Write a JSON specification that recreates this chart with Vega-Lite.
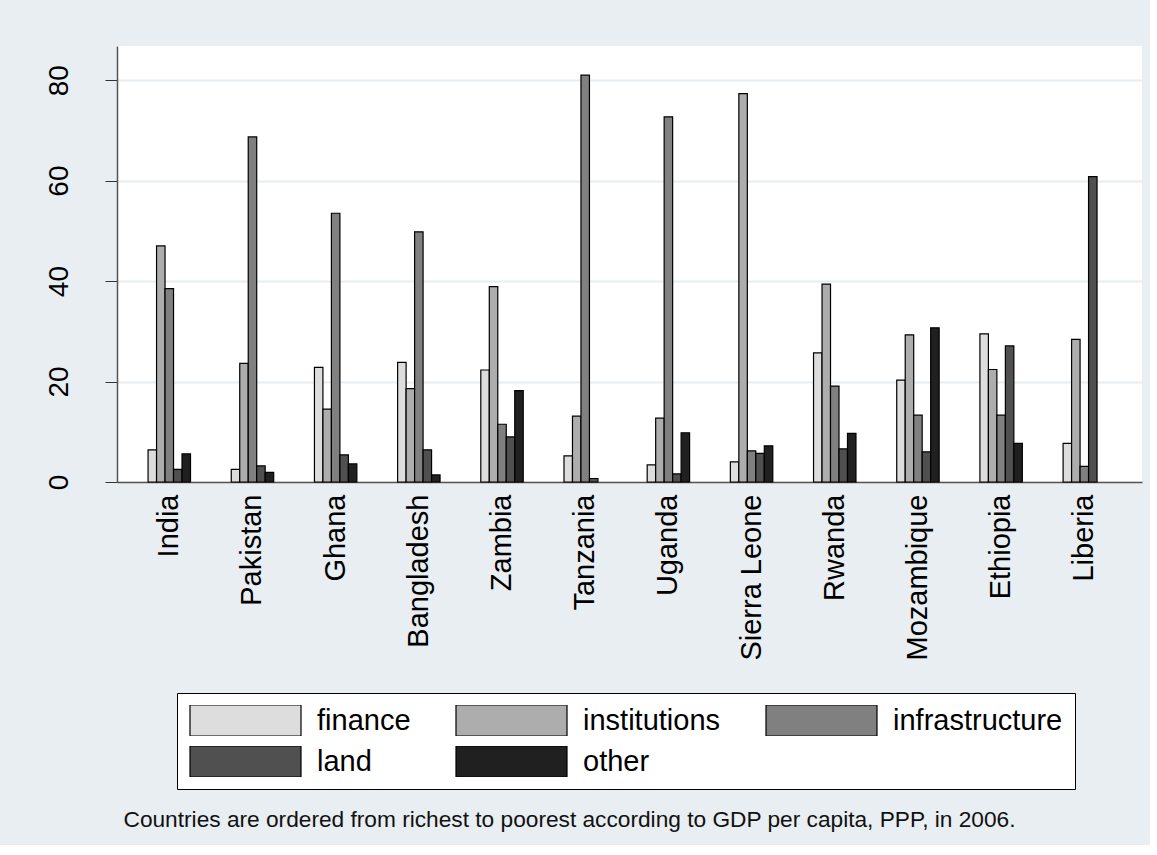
{
  "$schema": "https://vega.github.io/schema/vega-lite/v6.json",
  "width": 1025,
  "height": 436,
  "autosize": {"type": "none"},
  "padding": {"left": 117, "top": 46, "right": 8, "bottom": 363},
  "background": "#e8eef1",
  "config": {"view": {"fill": "white", "stroke": null}, "font": "Liberation Sans"},
  "data": {"values": [
    {"country": "India", "category": "finance", "value": 6.4},
    {"country": "India", "category": "institutions", "value": 47.0},
    {"country": "India", "category": "infrastructure", "value": 38.5},
    {"country": "India", "category": "land", "value": 2.5},
    {"country": "India", "category": "other", "value": 5.6},
    {"country": "Pakistan", "category": "finance", "value": 2.5},
    {"country": "Pakistan", "category": "institutions", "value": 23.6},
    {"country": "Pakistan", "category": "infrastructure", "value": 68.7},
    {"country": "Pakistan", "category": "land", "value": 3.2},
    {"country": "Pakistan", "category": "other", "value": 1.9},
    {"country": "Ghana", "category": "finance", "value": 22.8},
    {"country": "Ghana", "category": "institutions", "value": 14.5},
    {"country": "Ghana", "category": "infrastructure", "value": 53.5},
    {"country": "Ghana", "category": "land", "value": 5.4},
    {"country": "Ghana", "category": "other", "value": 3.6},
    {"country": "Bangladesh", "category": "finance", "value": 23.8},
    {"country": "Bangladesh", "category": "institutions", "value": 18.6},
    {"country": "Bangladesh", "category": "infrastructure", "value": 49.8},
    {"country": "Bangladesh", "category": "land", "value": 6.4},
    {"country": "Bangladesh", "category": "other", "value": 1.4},
    {"country": "Zambia", "category": "finance", "value": 22.3},
    {"country": "Zambia", "category": "institutions", "value": 38.9},
    {"country": "Zambia", "category": "infrastructure", "value": 11.5},
    {"country": "Zambia", "category": "land", "value": 9.0},
    {"country": "Zambia", "category": "other", "value": 18.2},
    {"country": "Tanzania", "category": "finance", "value": 5.2},
    {"country": "Tanzania", "category": "institutions", "value": 13.1},
    {"country": "Tanzania", "category": "infrastructure", "value": 81.0},
    {"country": "Tanzania", "category": "land", "value": 0.7},
    {"country": "Uganda", "category": "finance", "value": 3.4},
    {"country": "Uganda", "category": "institutions", "value": 12.7},
    {"country": "Uganda", "category": "infrastructure", "value": 72.7},
    {"country": "Uganda", "category": "land", "value": 1.6},
    {"country": "Uganda", "category": "other", "value": 9.8},
    {"country": "Sierra Leone", "category": "finance", "value": 4.0},
    {"country": "Sierra Leone", "category": "institutions", "value": 77.3},
    {"country": "Sierra Leone", "category": "infrastructure", "value": 6.2},
    {"country": "Sierra Leone", "category": "land", "value": 5.7},
    {"country": "Sierra Leone", "category": "other", "value": 7.2},
    {"country": "Rwanda", "category": "finance", "value": 25.7},
    {"country": "Rwanda", "category": "institutions", "value": 39.4},
    {"country": "Rwanda", "category": "infrastructure", "value": 19.1},
    {"country": "Rwanda", "category": "land", "value": 6.6},
    {"country": "Rwanda", "category": "other", "value": 9.7},
    {"country": "Mozambique", "category": "finance", "value": 20.3},
    {"country": "Mozambique", "category": "institutions", "value": 29.3},
    {"country": "Mozambique", "category": "infrastructure", "value": 13.3},
    {"country": "Mozambique", "category": "land", "value": 6.0},
    {"country": "Mozambique", "category": "other", "value": 30.7},
    {"country": "Ethiopia", "category": "finance", "value": 29.5},
    {"country": "Ethiopia", "category": "institutions", "value": 22.4},
    {"country": "Ethiopia", "category": "infrastructure", "value": 13.3},
    {"country": "Ethiopia", "category": "land", "value": 27.1},
    {"country": "Ethiopia", "category": "other", "value": 7.7},
    {"country": "Liberia", "category": "finance", "value": 7.7},
    {"country": "Liberia", "category": "institutions", "value": 28.4},
    {"country": "Liberia", "category": "infrastructure", "value": 3.1},
    {"country": "Liberia", "category": "land", "value": 60.8}
  ]},
  "mark": {"type": "bar", "stroke": "black", "strokeWidth": 1.2},
  "encoding": {
    "x": {
      "field": "country", "type": "nominal",
      "sort": ["India", "Pakistan", "Ghana", "Bangladesh", "Zambia", "Tanzania", "Uganda", "Sierra Leone", "Rwanda", "Mozambique", "Ethiopia", "Liberia"],
      "scale": {"paddingInner": 0.49, "paddingOuter": 0.406, "align": 0.46},
      "axis": {
        "labelAngle": -90, "labelFontSize": 29, "labelColor": "black", "labelLimit": 400,
        "ticks": false, "tickSize": 0, "labelPadding": 12,
        "domainColor": "#555555", "domainWidth": 1.5, "grid": false,
        "title": "Countries are ordered from richest to poorest according to GDP per capita, PPP, in 2006.",
        "titleFontSize": 22.7, "titleFontWeight": "normal", "titleColor": "#111111",
        "titleAnchor": "start", "titleAlign": "left", "titleBaseline": "alphabetic",
        "titleX": 6, "titleY": 344
      }
    },
    "xOffset": {
      "field": "category", "type": "nominal",
      "sort": ["finance", "institutions", "infrastructure", "land", "other"],
      "scale": {"domain": ["finance", "institutions", "infrastructure", "land", "other"], "paddingInner": 0, "paddingOuter": 0}
    },
    "y": {
      "field": "value", "type": "quantitative",
      "scale": {"domain": [0, 86.8], "nice": false},
      "axis": {
        "values": [0, 20, 40, 60, 80], "title": null,
        "labelAngle": -90, "labelAlign": "center", "labelBaseline": "bottom",
        "labelFontSize": 28, "labelColor": "black", "labelPadding": 32,
        "tickSize": 12, "tickColor": "#333333", "tickWidth": 1,
        "domainColor": "#555555", "domainWidth": 1.5,
        "grid": true, "gridColor": "#e6eef1", "gridWidth": 2
      }
    },
    "fill": {
      "field": "category", "type": "nominal",
      "scale": {"domain": ["finance", "institutions", "infrastructure", "land", "other"], "range": ["#dddddd", "#adadad", "#808080", "#505050", "#202020"]},
      "legend": {
        "title": null, "orient": "none", "legendX": 60, "legendY": 647,
        "direction": "horizontal", "columns": 3,
        "symbolType": "M-1,-0.2793H1V0.2793H-1Z", "symbolSize": 12321, "clipHeight": 31,
        "symbolStrokeColor": "black", "symbolStrokeWidth": 1.2, "symbolOpacity": 1,
        "labelFontSize": 29, "labelColor": "black", "labelOffset": 15, "labelLimit": 400,
        "columnPadding": 44, "rowPadding": 10, "padding": 12,
        "strokeColor": "black", "fillColor": "white"
      }
    }
  }
}
